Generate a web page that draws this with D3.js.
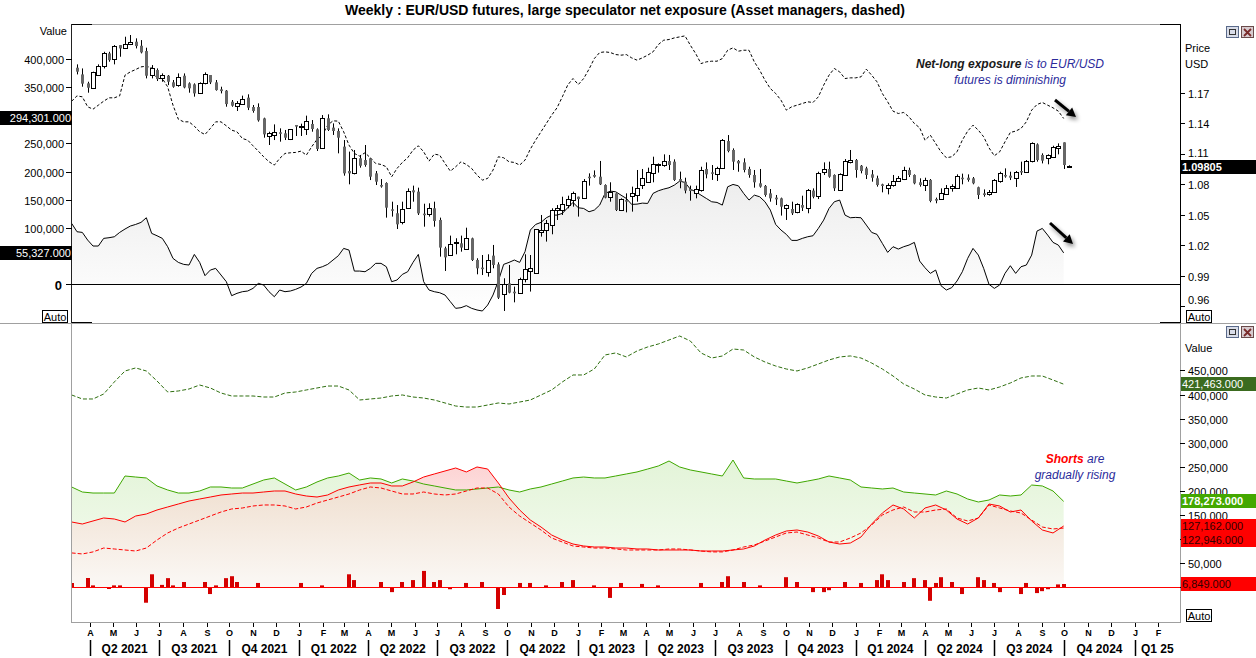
<!DOCTYPE html>
<html><head><meta charset="utf-8">
<script src="https://cdn.jsdelivr.net/npm/d3@7"></script>
<style>body{margin:0;background:#fff;}svg{display:block;font-family:Arial,"Liberation Sans",sans-serif;}</style>
</head><body>
<svg id="c" width="1256" height="658"></svg>
<script>
// ---------- DATA ----------
const title = "Weekly : EUR/USD futures, large speculator net exposure (Asset managers, dashed)";
const candleStart = "2021-03-15"; // first weekly candle (Monday)
// EUR/USD weekly OHLC
const priceOpen = [1.1946,1.1880,1.1792,1.1749,1.1880,1.1956,1.2087,1.2028,1.2169,1.2136,1.2176,1.2202,1.2162,1.2110,1.1874,1.1923,1.1848,1.1867,1.1802,1.1769,1.1867,1.1792,1.1782,1.1693,1.1792,1.1874,1.1802,1.1733,1.1720,1.1611,1.1562,1.1592,1.1651,1.1559,1.1559,1.1447,1.1277,1.1290,1.1310,1.1300,1.1241,1.1382,1.1366,1.1349,1.1392,1.1339,1.1152,1.1448,1.1356,1.1323,1.1169,1.0929,1.0906,1.1054,1.1037,1.1054,1.0906,1.0791,1.0811,1.0552,1.0513,1.0424,1.0568,1.0739,1.0726,1.0509,1.0503,1.0562,1.0447,1.0168,1.0102,1.0227,1.0217,1.0168,1.0266,1.0053,0.9978,0.9932,1.0096,1.0010,0.9715,0.9823,0.9741,0.9732,0.9866,0.9945,0.9922,1.0325,1.0342,1.0398,1.0545,1.0545,1.0594,1.0644,1.0676,1.0660,1.0873,1.0890,1.0873,1.0791,1.0667,1.0709,1.0545,1.0643,1.0676,1.0699,1.0785,1.0824,1.0906,1.0988,1.0988,1.1027,1.1021,1.0850,1.0824,1.0752,1.0709,1.0742,1.0949,1.0916,1.0906,1.0955,1.1224,1.1136,1.1028,1.1014,1.0949,1.0890,1.0808,1.0782,1.0709,1.0667,1.0660,1.0562,1.0555,1.0522,1.0594,1.0568,1.0736,1.0676,1.0922,1.0949,1.0890,1.0742,1.0890,1.1021,1.1037,1.0981,1.0955,1.0896,1.0857,1.0798,1.0765,1.0791,1.0831,1.0850,1.0939,1.0890,1.0818,1.0791,1.0841,1.0653,1.0653,1.0709,1.0765,1.0769,1.0863,1.0863,1.0857,1.0769,1.0709,1.0703,1.0726,1.0824,1.0890,1.0883,1.0863,1.0929,1.0922,1.1021,1.1191,1.1087,1.1060,1.1070,1.1159,1.1211,1.0980];
const priceHigh = [1.1979,1.1939,1.1808,1.1907,1.1979,1.2103,1.2103,1.2169,1.2169,1.2251,1.2268,1.2235,1.2218,1.2143,1.1972,1.1939,1.1890,1.1874,1.1825,1.1890,1.1890,1.1802,1.1792,1.1802,1.1900,1.1874,1.1825,1.1759,1.1726,1.1628,1.1618,1.1671,1.1684,1.1579,1.1595,1.1454,1.1316,1.1388,1.1349,1.1333,1.1339,1.1382,1.1395,1.1474,1.1431,1.1349,1.1480,1.1487,1.1398,1.1349,1.1234,1.1120,1.1136,1.1087,1.1185,1.1060,1.0929,1.0850,1.0818,1.0627,1.0594,1.0627,1.0758,1.0785,1.0765,1.0607,1.0611,1.0627,1.0470,1.0184,1.0293,1.0267,1.0293,1.0371,1.0273,1.0070,1.0102,1.0109,1.0201,1.0030,0.9873,1.0004,0.9791,0.9879,1.0109,1.0102,1.0358,1.0496,1.0447,1.0562,1.0594,1.0676,1.0686,1.0726,1.0676,1.0850,1.0906,1.0935,1.1028,1.0798,1.0818,1.0709,1.0660,1.0709,1.0775,1.0939,1.0949,1.0962,1.1070,1.1004,1.1093,1.1087,1.1044,1.0923,1.0863,1.0785,1.0785,1.0971,1.1014,1.0988,1.0971,1.1244,1.1283,1.1152,1.1037,1.1054,1.0971,1.0939,1.0949,1.0791,1.0752,1.0693,1.0667,1.0601,1.0627,1.0611,1.0686,1.0752,1.0758,1.0922,1.1014,1.1021,1.0896,1.0906,1.1047,1.1136,1.1047,1.0988,1.0971,1.0939,1.0883,1.0804,1.0808,1.0890,1.0880,1.0971,1.0962,1.0896,1.0857,1.0863,1.0850,1.0667,1.0758,1.0791,1.0798,1.0896,1.0903,1.0896,1.0870,1.0775,1.0748,1.0742,1.0850,1.0922,1.0955,1.0922,1.0929,1.1021,1.1037,1.1211,1.1201,1.1103,1.1093,1.1178,1.1201,1.1211,1.0985];
const priceLow = [1.1880,1.1759,1.1700,1.1736,1.1867,1.1939,1.2005,1.1979,1.2054,1.2130,1.2169,1.2136,1.2087,1.1841,1.1841,1.1815,1.1808,1.1775,1.1749,1.1759,1.1743,1.1700,1.1661,1.1687,1.1782,1.1785,1.1720,1.1693,1.1562,1.1562,1.1520,1.1579,1.1529,1.1503,1.1415,1.1257,1.1185,1.1234,1.1218,1.1234,1.1234,1.1274,1.1274,1.1284,1.1316,1.1126,1.1146,1.1323,1.1284,1.1103,1.0883,1.0798,1.0896,1.0962,1.0971,1.0840,1.0791,1.0765,1.0470,1.0480,1.0358,1.0404,1.0555,1.0627,1.0496,1.0381,1.0480,1.0381,1.0086,0.9945,1.0096,1.0109,1.0135,1.0152,1.0043,0.9912,0.9905,0.9889,0.9971,0.9669,0.9551,0.9725,0.9636,0.9722,0.9833,0.9742,0.9922,1.0283,1.0234,1.0306,1.0447,1.0496,1.0562,1.0578,1.0480,1.0653,1.0785,1.0863,1.0791,1.0660,1.0627,1.0535,1.0535,1.0522,1.0529,1.0627,1.0752,1.0824,1.0818,1.0913,1.0971,1.0939,1.0831,1.0759,1.0709,1.0637,1.0660,1.0726,1.0857,1.0841,1.0831,1.0949,1.1113,1.0939,1.0922,1.0916,1.0863,1.0765,1.0765,1.0676,1.0627,1.0594,1.0490,1.0447,1.0496,1.0513,1.0535,1.0513,1.0660,1.0653,1.0890,1.0863,1.0732,1.0732,1.0883,1.1004,1.0863,1.0906,1.0850,1.0824,1.0775,1.0719,1.0699,1.0775,1.0824,1.0840,1.0870,1.0798,1.0775,1.0732,1.0621,1.0611,1.0644,1.0699,1.0726,1.0759,1.0798,1.0824,1.0798,1.0653,1.0676,1.0686,1.0719,1.0814,1.0863,1.0840,1.0772,1.0890,1.0916,1.1014,1.1021,1.1004,1.0995,1.1060,1.1093,1.0949,1.0972];
const priceClose = [1.1907,1.1789,1.1749,1.1907,1.1966,1.2087,1.2021,1.2159,1.2136,1.2179,1.2195,1.2159,1.2097,1.1867,1.1940,1.1834,1.1874,1.1808,1.1759,1.1851,1.1752,1.1743,1.1693,1.1792,1.1880,1.1802,1.1726,1.1716,1.1588,1.1572,1.1595,1.1638,1.1552,1.1520,1.1428,1.1290,1.1306,1.1316,1.1303,1.1257,1.1339,1.1366,1.1375,1.1424,1.1343,1.1146,1.1448,1.1333,1.1323,1.1257,1.0906,1.0906,1.1054,1.0981,1.0988,1.0873,1.0824,1.0785,1.0568,1.0539,1.0404,1.0555,1.0732,1.0719,1.0512,1.0499,1.0562,1.0437,1.0175,1.0079,1.0211,1.0234,1.0175,1.0273,1.0053,0.9971,0.9964,1.0053,1.0004,0.9682,0.9814,0.9732,0.9725,0.9866,0.9965,0.9971,1.0358,1.0348,1.0414,1.0545,1.0562,1.0601,1.0653,1.0709,1.0653,1.0831,1.0863,1.0873,1.0798,1.0667,1.0719,1.0545,1.0653,1.0627,1.0709,1.0765,1.0857,1.0922,1.0995,1.0995,1.1027,1.0988,1.0841,1.0824,1.0736,1.0732,1.0752,1.0939,1.0896,1.0906,1.0962,1.1234,1.1126,1.1021,1.1004,1.0939,1.0890,1.0818,1.0775,1.0693,1.0660,1.0650,1.0578,1.0594,1.0513,1.0601,1.0568,1.0742,1.0676,1.0906,1.0949,1.0873,1.0759,1.0896,1.1027,1.1037,1.0939,1.0929,1.0890,1.0863,1.0791,1.0782,1.0791,1.0831,1.0857,1.0939,1.0890,1.0808,1.0791,1.0841,1.0634,1.0637,1.0709,1.0765,1.0782,1.0883,1.0850,1.0841,1.0808,1.0693,1.0693,1.0726,1.0841,1.0906,1.0883,1.0863,1.0922,1.0922,1.1027,1.1201,1.1037,1.1031,1.1087,1.1169,1.1178,1.0988,1.0981];
// Asset managers net (thousands, dashed) and large speculators net (thousands, solid); weekly, first point one week before candleStart
const amNet = [325.0,334.5,332.7,315.0,310.8,317.9,325.0,331.0,331.0,334.5,371.2,377.1,381.3,386.0,387.2,384.2,365.3,365.3,350.5,317.9,293.0,288.3,288.3,280.6,270.6,265.8,276.5,288.3,288.3,281.2,273.5,270.6,258.7,255.8,245.7,236.2,226.2,217.3,211.4,223.2,232.1,233.3,233.9,236.2,229.1,243.9,257.0,264.6,282.4,290.1,289.5,270.6,246.9,232.1,227.4,233.3,224.4,214.3,212.5,208.4,190.6,205.4,216.1,224.4,238.0,245.7,235.0,218.5,230.9,229.1,214.3,200.7,208.4,217.3,212.5,205.4,193.6,184.7,187.7,202.5,226.2,224.4,217.3,216.1,211.4,220.2,239.8,255.8,270.6,285.4,300.2,313.2,332.7,353.5,365.3,354.6,365.3,381.9,400.8,411.5,412.7,411.5,407.9,406.8,407.9,402.0,397.9,402.0,406.8,412.7,425.7,433.4,434.6,437.5,439.3,441.1,424.5,409.7,391.9,394.9,396.1,396.1,400.8,415.6,419.8,413.9,415.6,415.6,394.9,380.1,362.3,347.5,338.7,326.8,309.1,315.0,317.9,320.9,323.9,322.7,332.7,353.5,371.2,383.1,377.1,365.3,366.5,366.5,368.3,381.9,371.2,359.4,338.7,323.9,307.3,303.1,304.9,297.2,285.4,277.7,255.8,264.6,249.8,235.0,224.4,226.2,235.0,255.8,271.8,282.4,273.5,261.7,242.1,228.0,235.0,252.8,269.4,271.8,276.5,288.3,309.1,319.1,322.7,317.9,313.2,307.3,294.301];
const specNet = [107.7,92.9,91.7,78.1,67.5,67.5,81.1,82.3,84.0,91.7,97.7,103.0,105.9,109.5,117.8,90.0,85.8,81.1,66.3,45.5,38.4,34.9,33.7,52.6,38.4,14.8,24.8,27.8,16.0,4.1,-20.8,-16.6,-13.7,-12.5,-7.8,1.1,-1.8,-13.7,-22.6,-10.7,-13.7,-12.5,-9.5,-5.4,1.1,18.9,27.8,30.7,34.9,42.6,50.3,63.3,60.3,23.0,23.0,21.8,27.8,36.7,36.7,30.7,4.1,7.1,17.1,21.8,38.4,52.6,4.1,-10.7,-13.7,-15.5,-19.6,-31.4,-43.3,-42.1,-38.5,-43.3,-46.2,-48.0,-37.4,-19.6,5.3,34.9,38.4,42.6,38.4,57.4,95.9,105.9,109.5,117.8,122.5,122.5,125.5,135.5,145.0,135.5,134.3,128.4,131.4,140.3,161.0,165.1,164.0,158.0,152.1,141.5,142.0,143.8,143.2,161.0,165.7,168.7,171.1,175.8,182.9,180.5,168.7,164.0,158.0,152.1,146.2,145.0,140.3,172.8,177.0,174.6,161.0,149.2,158.0,155.1,146.2,131.4,105.9,95.9,88.2,77.5,77.5,81.1,84.0,85.8,98.8,113.6,134.3,146.2,149.2,122.5,117.8,118.4,117.8,104.8,91.7,88.2,72.2,56.2,66.3,62.1,66.3,69.2,74.0,40.8,28.9,18.9,24.8,-3.0,-10.7,-6.6,5.3,21.8,45.5,63.3,51.4,27.8,-0.6,-7.8,-1.8,18.9,32.5,18.9,30.7,33.7,51.4,94.1,98.8,87.0,74.0,69.2,55.327];
// Lower panel: sampled every second week (week index -1,1,3,...,185 from candleStart), thousands
const amLong = [399.0,390.7,390.7,401.0,426.0,448.8,455.1,448.8,428.1,405.2,407.3,411.4,419.7,413.5,403.1,396.9,396.9,396.9,394.8,394.8,403.1,405.2,409.4,413.5,417.6,417.6,409.4,388.6,390.7,392.7,396.9,399.0,394.8,392.7,388.6,382.4,376.1,374.0,374.0,378.2,382.4,380.3,384.4,388.6,399.0,409.4,426.0,440.5,440.5,453.0,482.0,486.2,477.9,490.3,498.6,504.8,513.1,521.4,511.0,486.2,475.7,479.9,494.4,492.3,477.9,467.4,459.1,452.9,448.8,455.1,463.3,471.6,477.9,480.0,475.7,465.3,452.9,438.4,421.8,411.4,399.0,394.8,392.7,401.0,409.4,413.5,409.4,415.6,423.9,434.3,438.4,438.4,430.1,421.463];
const specLong = [208.1,197.7,195.6,195.6,195.6,230.9,228.8,226.8,210.2,201.9,195.6,195.6,199.8,208.1,208.1,206.0,206.0,214.3,222.6,226.8,214.3,201.9,208.1,218.5,226.8,230.9,237.1,222.6,226.8,224.7,216.4,224.7,220.5,214.3,210.2,206.0,201.9,201.9,204.0,206.0,208.1,201.9,197.7,204.0,208.1,214.3,220.5,226.8,228.8,226.8,226.8,230.9,235.1,239.3,245.4,251.7,262.0,249.6,243.4,239.3,235.1,230.9,264.1,226.8,224.7,224.7,224.7,220.5,216.4,220.5,224.7,230.9,226.8,222.6,208.1,206.0,204.0,206.0,197.7,195.6,193.6,191.5,199.8,193.6,183.2,177.0,181.1,191.5,189.4,191.5,212.2,210.2,199.8,178.273];
const specShort = [135.5,131.3,137.6,143.8,141.7,135.5,147.9,152.1,160.4,166.6,172.8,179.0,183.2,187.3,191.5,193.6,195.6,195.6,197.7,199.8,199.8,193.6,189.4,187.3,191.5,201.9,208.1,212.4,216.4,216.4,210.2,210.2,218.5,228.8,235.1,241.3,247.5,239.3,249.6,245.4,216.4,185.3,160.4,139.6,125.1,108.5,98.1,89.8,85.7,83.6,83.6,81.5,81.5,79.5,79.5,77.4,77.4,77.4,77.4,75.3,75.3,75.3,77.4,79.5,85.7,98.1,108.5,116.8,118.9,114.7,106.4,94.0,89.8,91.9,104.4,131.3,154.1,170.8,162.5,143.8,164.5,170.8,160.4,141.7,131.3,143.8,172.8,168.7,156.2,160.4,137.6,118.9,112.7,127.162];
const amShort = [71.3,69.2,73.4,81.5,79.5,77.4,75.3,81.5,98.1,112.7,123.0,131.3,139.6,147.9,156.2,162.5,164.5,168.7,170.8,170.8,168.7,162.5,166.6,174.9,181.1,187.3,193.6,201.9,208.1,206.0,199.8,193.6,193.6,197.7,193.6,191.5,193.6,199.8,206.0,206.0,193.6,166.6,147.9,133.4,118.9,102.3,94.0,85.7,83.6,81.5,81.5,79.5,77.4,77.4,77.4,77.4,79.5,79.5,77.4,75.3,73.4,73.4,77.4,83.6,87.8,96.0,104.4,112.7,114.7,108.5,102.3,94.0,94.0,102.3,112.7,129.3,150.0,160.4,166.6,156.2,156.2,160.4,162.5,143.8,137.6,143.8,170.8,164.5,158.3,154.1,139.6,125.1,121.0,122.946];
// Weekly change bars (week index, thousands)
const barWeek = [-1,2,3,6,7,8,13,14,16,17,18,20,24,25,26,28,29,30,34,42,46,51,52,57,59,61,63,65,67,68,70,73,76,79,80,83,85,88,91,93,97,100,102,106,109,117,121,122,125,128,133,135,138,140,141,144,147,150,151,152,155,157,159,160,161,162,164,166,169,170,172,173,177,178,180,181,182,184,185];
const barValue = [8.9,19.3,4,-3.5,4,4,-32,27,5,19,4,11,11,-14,4,19,23,11,9,9,4,27,15,11,-10,11,15,34,11,15,-4,9,11,-45,-16,9,9,4,11,15,4,-22,9,7,4,9,11,23,11,4,21,11,-10,-10,-6,11,9,15,27,15,11,19,15,-28,9,21,11,-14,21,15,9,-10,-14,9,-12,-8,-4,6,6.849];
// Axis labels (ticks hidden behind value boxes in the original are left out)
const leftTicks = [0,100000,150000,200000,250000,350000,400000];
const priceTicks = [0.96,0.99,1.02,1.05,1.08,1.11,1.14,1.17];
const lowerTicks = [50000,150000,200000,250000,300000,350000,400000,450000];
const monthLetters = ["J","F","M","A","M","J","J","A","S","O","N","D"];
const quarterLabels = ["Q2 2021","Q3 2021","Q4 2021","Q1 2022","Q2 2022","Q3 2022","Q4 2022","Q1 2023","Q2 2023","Q3 2023","Q4 2023","Q1 2024","Q2 2024","Q3 2024","Q4 2024","Q1 25"];

// ---------- SCALES ----------
const svg = d3.select("#c");
const L=72, R=1180, T1=24, B1=323, T2=324, B2=622;
const d0 = new Date(candleStart+"T00:00:00Z");
const wk = k => d3.utcMonday.offset(d0, k);
const x = d3.scaleUtc().domain([d0, wk(186)]).range([77, 1069]);
const yP = d3.scaleLinear().domain([0.96,1.17]).range([306,92.7]);
const yV = d3.scaleLinear().domain([0,400000]).range([284,59]);
const yB = d3.scaleLinear().domain([0,450000]).range([587.3,370.4]);
const lowerWeek = d3.range(-1, 186, 2);

const defs = svg.append("defs");
defs.append("clipPath").attr("id","clipT").append("rect").attr("x",L).attr("y",T1).attr("width",R-L).attr("height",B1-T1);
defs.append("clipPath").attr("id","clipB").append("rect").attr("x",L).attr("y",T2).attr("width",R-L).attr("height",B2-T2);
function grad(id,y1,y2,c1,c2){
  const g=defs.append("linearGradient").attr("id",id).attr("gradientUnits","userSpaceOnUse").attr("x1",0).attr("x2",0).attr("y1",y1).attr("y2",y2);
  g.append("stop").attr("offset",0).attr("stop-color",c1);
  g.append("stop").attr("offset",1).attr("stop-color",c2);
}
grad("gTop",130,300,"#e6e6e6","#fdfdfd");
grad("gGreen",460,587,"#e3f4d8","#f7fcf3");
grad("gBeige",470,587,"#eedccb","#fbf8f5");
grad("gPink",440,500,"#fcc8c8","#fde2e2");
const sh = defs.append("filter").attr("id","shadow").attr("x","-50%").attr("y","-50%").attr("width","200%").attr("height","200%");
sh.append("feGaussianBlur").attr("in","SourceAlpha").attr("stdDeviation",2).attr("result","b");
sh.append("feOffset").attr("in","b").attr("dx",2).attr("dy",3).attr("result","o");
sh.append("feComponentTransfer").attr("in","o").attr("result","o2").append("feFuncA").attr("type","linear").attr("slope",0.45);
const mg = sh.append("feMerge"); mg.append("feMergeNode").attr("in","o2"); mg.append("feMergeNode").attr("in","SourceGraphic");

// ---------- TITLE ----------
svg.append("text").attr("x",625).attr("y",15).attr("text-anchor","middle").attr("font-size",14).attr("font-weight","bold").text(title);

// ---------- TOP PANEL ----------
const gT = svg.append("g").attr("clip-path","url(#clipT)");
const lineK = (arr) => arr.map((v,i)=>({k:i-1,v}));
const specPts = lineK(specNet), amPts = lineK(amNet);
gT.append("path").datum(specPts).attr("fill","url(#gTop)")
  .attr("d", d3.area().x(d=>x(wk(d.k))).y0(yV(0)).y1(d=>yV(d.v*1000)));
gT.append("line").attr("x1",L).attr("x2",R).attr("y1",284.5).attr("y2",284.5).attr("stroke","#000");
gT.append("path").datum(amPts).attr("fill","none").attr("stroke","#000").attr("stroke-width",1).attr("stroke-dasharray","3,2")
  .attr("d", d3.line().x(d=>x(wk(d.k))).y(d=>yV(d.v*1000)));
gT.append("path").datum(specPts).attr("fill","none").attr("stroke","#000").attr("stroke-width",1)
  .attr("d", d3.line().x(d=>x(wk(d.k))).y(d=>yV(d.v*1000)));
priceClose.forEach((c,i)=>{
  const o=priceOpen[i], h=priceHigh[i], l=priceLow[i];
  const cx=Math.round(x(wk(i)))+0.5;
  gT.append("line").attr("x1",cx).attr("x2",cx).attr("y1",yP(h)).attr("y2",yP(l)).attr("stroke","#000");
  const t=yP(Math.max(o,c)), b=yP(Math.min(o,c));
  if(c>=o){
    gT.append("rect").attr("x",cx-2).attr("y",Math.round(t)+0.5).attr("width",4).attr("height",Math.max(1,Math.round(b-t))).attr("fill","#fff").attr("stroke","#000");
  } else {
    gT.append("rect").attr("x",cx-1.5).attr("y",t).attr("width",3).attr("height",Math.max(1.5,b-t)).attr("fill","#666");
  }
});
svg.append("line").attr("x1",0).attr("x2",1256).attr("y1",323.5).attr("y2",323.5).attr("stroke","#a0a0a0");
svg.append("line").attr("x1",L).attr("x2",R).attr("y1",24.5).attr("y2",24.5).attr("stroke","#a0a0a0");
[[L,92,24.5],[1160,R,24.5],[L,92,322.5],[1160,R,322.5]].forEach(s=>svg.append("line").attr("x1",s[0]).attr("x2",s[1]).attr("y1",s[2]).attr("y2",s[2]).attr("stroke","#000"));
svg.append("line").attr("x1",L-0.5).attr("x2",L-0.5).attr("y1",24).attr("y2",323).attr("stroke","#222");
svg.append("line").attr("x1",R+0.5).attr("x2",R+0.5).attr("y1",24).attr("y2",323).attr("stroke","#000");
svg.append("text").attr("x",67).attr("y",35).attr("text-anchor","end").attr("font-size",11).text("Value");
[0,50000,100000,150000,200000,250000,300000,350000,400000].forEach(v=>{
  const y=Math.round(yV(v))+0.5;
  svg.append("line").attr("x1",66).attr("x2",L).attr("y1",y).attr("y2",y).attr("stroke","#000");
});
leftTicks.forEach(v=>{
  const y=Math.round(yV(v))+0.5;
  const t=svg.append("text").attr("x",64).attr("y",y+4).attr("text-anchor","end").attr("font-size",11).text(d3.format(",")(v));
  if(v===0) t.attr("font-size",13).attr("font-weight","bold").attr("x",62).attr("y",y+5);
});
svg.append("text").attr("x",1185).attr("y",52).attr("font-size",11).text("Price");
svg.append("text").attr("x",1185).attr("y",68).attr("font-size",11).text("USD");
priceTicks.forEach(p=>{
  const y=Math.round(yP(p))+0.5;
  svg.append("line").attr("x1",R).attr("x2",R+5).attr("y1",y).attr("y2",y).attr("stroke","#000");
  svg.append("text").attr("x",1188).attr("y",(p===0.96? y-7 : (p===1.11? y-2 : y))+4).attr("font-size",11).text(p.toFixed(2));
});
function box(x0,y0,w,h,bg,txt,col,anchor,bold){
  svg.append("rect").attr("x",x0).attr("y",y0).attr("width",w).attr("height",h).attr("fill",bg);
  svg.append("text").attr("x",anchor==="end"?x0+w-1:x0+1).attr("y",y0+h-3).attr("text-anchor",anchor).attr("font-size",11)
    .attr("font-weight",bold?"bold":"normal").attr("fill",col).text(txt);
}
const fmtBox = v => d3.format(",.3f")(v);
box(0,Math.round(yV(amNet[amNet.length-1]*1000))-7,72,14,"#000",fmtBox(amNet[amNet.length-1]*1000),"#fff","end");
box(0,Math.round(yV(specNet[specNet.length-1]*1000))-7,72,14,"#000",fmtBox(specNet[specNet.length-1]*1000),"#fff","end");
box(1181,Math.round(yP(1.09805))-6,75,14,"#000","1.09805","#fff","start",true);
function autoBox(x0,y0){
  svg.append("rect").attr("x",x0+0.5).attr("y",y0+0.5).attr("width",25).attr("height",12).attr("fill","#fff").attr("stroke","#000");
  svg.append("text").attr("x",x0+13).attr("y",y0+10.5).attr("text-anchor","middle").attr("font-size",11).text("Auto");
}
autoBox(42,310); autoBox(1186,310); autoBox(1186,609);
function icons(y0){
  svg.append("rect").attr("x",1226.5).attr("y",y0+0.5).attr("width",12).attr("height",11).attr("fill","#d8dce8").attr("stroke","#5a6a8a");
  svg.append("rect").attr("x",1229.5).attr("y",y0+3.5).attr("width",6).attr("height",5).attr("fill","none").attr("stroke","#333");
  svg.append("rect").attr("x",1241.5).attr("y",y0+0.5).attr("width",12).attr("height",11).attr("fill","#d8ccd0").attr("stroke","#6a4a4a");
  svg.append("path").attr("d",`M${1244},${y0+3}L${1251},${y0+10}M${1251},${y0+3}L${1244},${y0+10}`).attr("stroke","#7a2a2a").attr("stroke-width",1.8);
}
icons(26); icons(326);
const a1 = svg.append("text").attr("x",1010).attr("y",68).attr("text-anchor","middle").attr("font-size",12).attr("font-style","italic");
a1.append("tspan").attr("font-weight","bold").attr("fill","#1a1a1a").text("Net-long exposure");
a1.append("tspan").attr("fill","#2b2b9b").text(" is to EUR/USD");
svg.append("text").attr("x",1010).attr("y",84).attr("text-anchor","middle").attr("font-size",12).attr("font-style","italic").attr("fill","#2b2b9b").text("futures is diminishing");
function arrow(x1,y1,x2,y2){
  const ang=Math.atan2(y2-y1,x2-x1), hl=9, hw=5;
  const bx=x2-hl*Math.cos(ang), by=y2-hl*Math.sin(ang);
  const px=-Math.sin(ang), py=Math.cos(ang);
  const g=svg.append("g").attr("filter","url(#shadow)");
  g.append("line").attr("x1",x1).attr("y1",y1).attr("x2",bx).attr("y2",by).attr("stroke","#000").attr("stroke-width",3);
  g.append("path").attr("d",`M${x2},${y2}L${bx+px*hw},${by+py*hw}L${bx-px*hw},${by-py*hw}Z`).attr("fill","#000");
}
arrow(1055,100,1076,117);
arrow(1050,223,1073,244);

// ---------- BOTTOM PANEL ----------
const gB = svg.append("g").attr("clip-path","url(#clipB)");
const pts = arr => arr.map((v,i)=>({k:lowerWeek[i],v}));
const gL=pts(specLong), gS=pts(specShort), dL=pts(amLong), dS=pts(amShort);
const bxf = d=>x(wk(d.k));
gB.append("path").datum(gL).attr("fill","url(#gGreen)").attr("d",d3.area().x(bxf).y0(yB(0)).y1(d=>yB(d.v*1000)));
const both = gS.map((d,i)=>({k:d.k, s:d.v, l:gL[i].v}));
gB.append("path").datum(both).attr("fill","url(#gBeige)").attr("d",d3.area().x(bxf).y0(yB(0)).y1(d=>yB(Math.min(d.s,d.l)*1000)));
gB.append("path").datum(both).attr("fill","url(#gPink)").attr("d",d3.area().x(bxf).y0(d=>yB(Math.min(d.s,d.l)*1000)).y1(d=>yB(d.s*1000)));
barValue.forEach((v,i)=>{
  const cx=Math.round(x(wk(barWeek[i])));
  const y0=yB(0), y1=yB(v*1000);
  gB.append("rect").attr("x",cx-2).attr("y",Math.min(y0,y1)).attr("width",4).attr("height",Math.abs(y1-y0)).attr("fill","#d40000");
});
gB.append("line").attr("x1",L).attr("x2",R).attr("y1",587.5).attr("y2",587.5).attr("stroke","#ff0000").attr("stroke-width",1.2);
const ln = d3.line().x(bxf).y(d=>yB(d.v*1000));
gB.append("path").datum(dL).attr("fill","none").attr("stroke","#2f6f10").attr("stroke-dasharray","4,2").attr("d",ln);
gB.append("path").datum(gL).attr("fill","none").attr("stroke","#3fa800").attr("d",ln);
gB.append("path").datum(gS).attr("fill","none").attr("stroke","#ff0000").attr("d",ln);
gB.append("path").datum(dS).attr("fill","none").attr("stroke","#ff0000").attr("stroke-dasharray","4,2").attr("d",ln);
svg.append("rect").attr("x",L-0.5).attr("y",T2-0.5).attr("width",R-L+1).attr("height",B2-T2+1).attr("fill","none").attr("stroke","#a0a0a0");
svg.append("text").attr("x",1185).attr("y",352).attr("font-size",11).text("Value");
[0,50000,100000,150000,200000,250000,300000,350000,400000,450000].forEach(v=>{
  const y=Math.round(yB(v))+0.5;
  svg.append("line").attr("x1",R).attr("x2",R+5).attr("y1",y).attr("y2",y).attr("stroke","#000");
});
lowerTicks.forEach(v=>{
  const y=Math.round(yB(v))+0.5;
  svg.append("text").attr("x",1188).attr("y",y+4).attr("font-size",11).text(d3.format(",")(v));
});
const lastV = arr => arr[arr.length-1]*1000;
box(1181,377,75,14,"#3b6b1f",fmtBox(lastV(amLong)),"#fff","start");
box(1181,494,75,14,"#44a800",fmtBox(lastV(specLong)),"#fff","start",true);
box(1181,519,75,14,"#ff0000",fmtBox(lastV(specShort)),"#300","start");
box(1181,533,75,14,"#ff0000",fmtBox(lastV(amShort)),"#300","start");
box(1181,577,75,14,"#ff0000",fmtBox(barValue[barValue.length-1]*1000),"#300","start");
const a2 = svg.append("text").attr("x",1075).attr("y",463).attr("text-anchor","middle").attr("font-size",12).attr("font-style","italic");
a2.append("tspan").attr("font-weight","bold").attr("fill","#ff0000").text("Shorts");
a2.append("tspan").attr("fill","#2b2b9b").text(" are");
svg.append("text").attr("x",1075).attr("y",479).attr("text-anchor","middle").attr("font-size",12).attr("font-style","italic").attr("fill","#2b2b9b").text("gradually rising");

// ---------- X AXIS ----------
const months = d3.utcMonth.range(new Date("2021-04-01T00:00:00Z"), new Date("2025-02-02T00:00:00Z"));
months.forEach(m=>{
  const xm=Math.round(x(m))+0.5;
  svg.append("line").attr("x1",xm).attr("x2",xm).attr("y1",623).attr("y2",627).attr("stroke","#000");
  svg.append("text").attr("x",xm).attr("y",636).attr("text-anchor","middle").attr("font-size",9).attr("font-weight","bold").text(monthLetters[m.getUTCMonth()]);
});
const quarters = months.filter(d=>d.getUTCMonth()%3===0);
quarters.forEach((q,i)=>{
  const xq=Math.round(x(q))+0.5;
  svg.append("line").attr("x1",xq).attr("x2",xq).attr("y1",640).attr("y2",656).attr("stroke","#000").attr("stroke-width",1.5);
  const nxt = i<quarters.length-1 ? x(quarters[i+1]) : R;
  svg.append("text").attr("x",(x(q)+nxt)/2).attr("y",653).attr("text-anchor","middle").attr("font-size",12).attr("font-weight","bold").text(quarterLabels[i]);
});
</script>
</body></html>
